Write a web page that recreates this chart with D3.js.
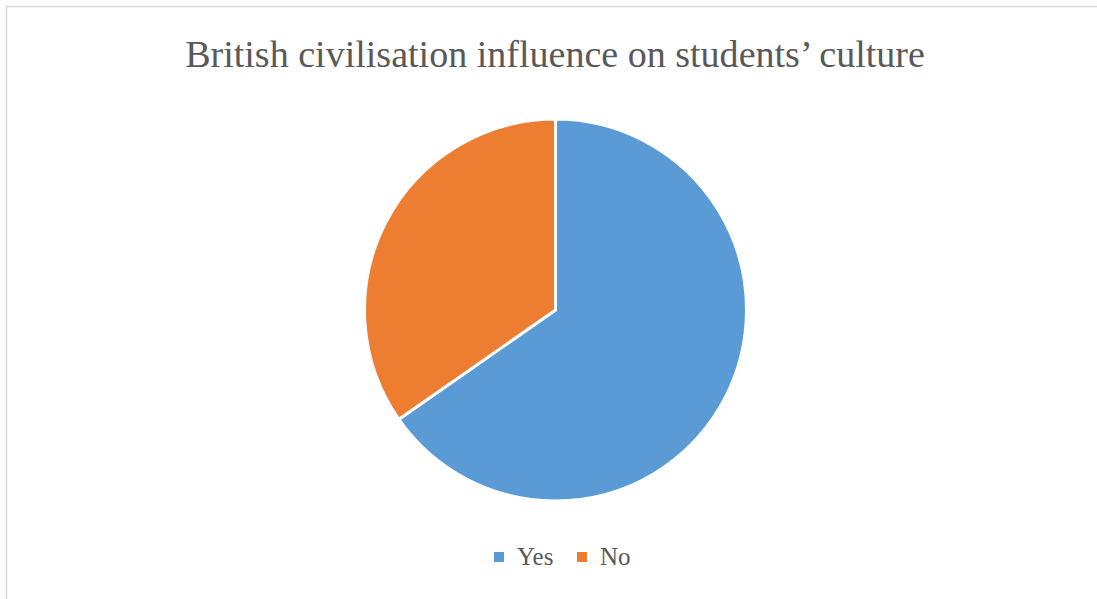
<!DOCTYPE html>
<html>
<head>
<meta charset="utf-8">
<script src="https://cdn.jsdelivr.net/npm/d3@7"></script>
<style>
  body { margin: 0; background: #fff; }
  svg { display: block; }
</style>
</head>
<body>
<div id="chart"></div>
<script>
// chart data
const categories = ['Yes', 'No'];
const values = [65.3, 34.7];
const colors = ['#5B9BD5', '#ED7D31'];
const title = 'British civilisation influence on students\u2019 culture';

const width = 1097;
const height = 599;

const svg = d3.select('#chart').append('svg')
  .attr('width', width)
  .attr('height', height);

// chart area border (right/bottom edges fall outside the picture)
svg.append('rect')
  .attr('x', 6.5).attr('y', 6.5)
  .attr('width', width).attr('height', height)
  .attr('fill', '#fff')
  .attr('stroke', '#d9d9d9')
  .attr('stroke-width', 1.5);

// title, sized so it spans the same width as the original
const titleText = svg.append('text')
  .attr('x', 555)
  .attr('y', 67)
  .attr('text-anchor', 'middle')
  .attr('font-family', '"Liberation Serif", "DejaVu Serif", serif')
  .attr('font-size', 33)
  .attr('fill', '#595959')
  .text(title);
const tw = titleText.node().getComputedTextLength();
titleText.attr('font-size', 33 * 740 / tw);

// pie
const cx = 555.5, cy = 310, r = 191;
const color = d3.scaleOrdinal().domain(categories).range(colors);
const pie = d3.pie().sort(null).value((d, i) => values[i]);
const arc = d3.arc().innerRadius(0).outerRadius(r);

svg.append('g')
  .attr('transform', `translate(${cx},${cy})`)
  .selectAll('path')
  .data(pie(categories))
  .join('path')
  .attr('d', arc)
  .attr('fill', d => color(d.data))
  .attr('stroke', '#fff')
  .attr('stroke-width', 3)
  .attr('stroke-linejoin', 'round');

// legend
const legend = svg.append('g')
  .attr('font-family', '"Liberation Serif", "DejaVu Serif", serif')
  .attr('font-size', 25)
  .attr('fill', '#595959');

const legendX = [494, 577];
const items = legend.selectAll('g')
  .data(categories)
  .join('g')
  .attr('transform', (d, i) => `translate(${legendX[i]},552)`);

items.append('rect')
  .attr('width', 10).attr('height', 10)
  .attr('fill', d => color(d));

items.append('text')
  .attr('x', 23)
  .attr('y', 13)
  .text(d => d);
</script>
</body>
</html>
